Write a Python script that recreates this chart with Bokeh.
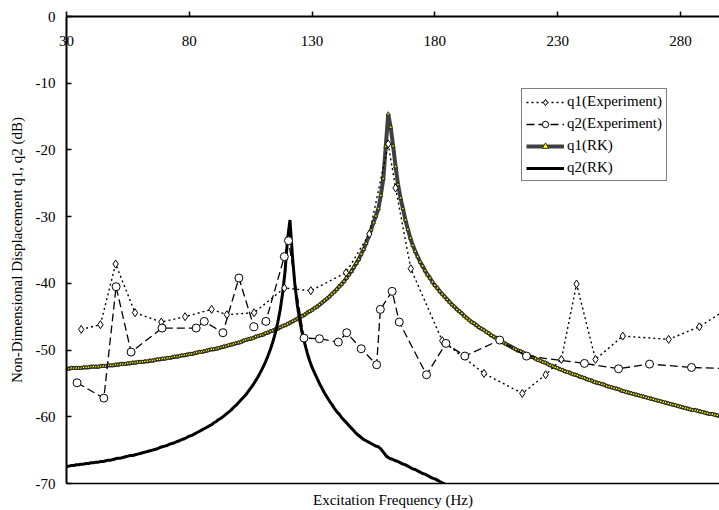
from bokeh.plotting import figure
from bokeh.models import Range1d, FixedTicker, LinearAxis, Legend, LegendItem
from bokeh.embed import file_html
from bokeh.resources import INLINE

# ---- measured response (experiment) ----
q1_exp_freq = [36.0, 43.8, 50.0, 57.9, 68.6, 78.3, 89.1, 95.3, 106.4, 118.7, 129.5,
               143.8, 153.3, 161.0, 164.0, 170.2, 183.0, 200.0, 215.6, 225.1, 231.5,
               237.7, 245.4, 256.5, 275.2, 287.7, 300.0]
q1_exp_db = [-46.9, -46.2, -37.1, -44.4, -45.8, -45.0, -43.9, -44.7, -44.4, -40.7, -41.1,
             -38.4, -32.6, -19.1, -25.7, -37.8, -48.6, -53.5, -56.5, -53.7, -51.4,
             -40.1, -51.4, -47.9, -48.4, -46.5, -43.6]

q2_exp_freq = [34.3, 45.2, 50.2, 56.3, 68.9, 82.8, 86.1, 93.7, 100.2, 106.3, 111.2,
               118.7, 120.4, 126.7, 133.0, 140.7, 144.1, 150.0, 156.3, 157.8, 162.6,
               165.5, 176.6, 184.5, 192.2, 206.4, 217.3, 240.9, 254.8, 267.4, 284.5, 300.0]
q2_exp_db = [-54.9, -57.2, -40.5, -50.3, -46.7, -46.7, -45.7, -47.4, -39.2, -46.5, -45.7,
             -36.0, -33.6, -48.2, -48.3, -48.8, -47.4, -49.8, -52.2, -43.9, -41.2,
             -45.8, -53.7, -49.0, -50.9, -48.5, -50.9, -52.0, -52.8, -52.1, -52.6, -52.8]

# ---- Runge-Kutta simulation, 1 Hz steps ----
q1_rk_freq = list(range(30, 301))
q1_rk_db = [
    -52.8, -52.8, -52.7, -52.7, -52.7, -52.7, -52.7, -52.6, -52.6, -52.6,
    -52.5, -52.5, -52.5, -52.5, -52.4, -52.4, -52.4, -52.3, -52.3, -52.3,
    -52.2, -52.2, -52.1, -52.1, -52.1, -52.0, -52.0, -51.9, -51.9, -51.8,
    -51.8, -51.8, -51.7, -51.7, -51.6, -51.6, -51.5, -51.4, -51.4, -51.3,
    -51.3, -51.2, -51.2, -51.1, -51.0, -51.0, -50.9, -50.8, -50.8, -50.7,
    -50.6, -50.6, -50.5, -50.4, -50.3, -50.3, -50.2, -50.1, -50.0, -49.9,
    -49.9, -49.8, -49.7, -49.6, -49.5, -49.4, -49.3, -49.2, -49.1, -49.0,
    -48.9, -48.8, -48.6, -48.5, -48.4, -48.3, -48.2, -48.0, -47.9, -47.8,
    -47.7, -47.5, -47.4, -47.2, -47.1, -46.9, -46.8, -46.6, -46.4, -46.3,
    -46.1, -45.9, -45.7, -45.5, -45.3, -45.1, -44.9, -44.7, -44.4, -44.2,
    -44.0, -43.7, -43.5, -43.2, -42.9, -42.6, -42.3, -42.0, -41.6, -41.3,
    -40.9, -40.5, -40.1, -39.7, -39.2, -38.7, -38.2, -37.6, -37.0, -36.4,
    -35.6, -34.9, -34.0, -33.0, -32.0, -30.9, -29.9, -28.8, -26.8, -24.3,
    -19.5, -14.6, -16.6, -19.4, -22.5, -25.2, -27.2, -28.8, -30.5, -31.9,
    -33.2, -34.3, -35.2, -36.0, -36.8, -37.4, -38.1, -38.7, -39.2, -39.8,
    -40.3, -40.7, -41.2, -41.6, -42.0, -42.4, -42.8, -43.2, -43.5, -43.9,
    -44.2, -44.5, -44.9, -45.2, -45.5, -45.8, -46.0, -46.3, -46.6, -46.8,
    -47.0, -47.3, -47.5, -47.8, -48.0, -48.2, -48.4, -48.7, -48.9, -49.1,
    -49.3, -49.5, -49.7, -49.9, -50.1, -50.2, -50.4, -50.6, -50.8, -51.0,
    -51.1, -51.3, -51.5, -51.6, -51.8, -51.9, -52.1, -52.3, -52.4, -52.6,
    -52.7, -52.9, -53.0, -53.2, -53.3, -53.4, -53.6, -53.7, -53.8, -54.0,
    -54.1, -54.2, -54.4, -54.5, -54.6, -54.8, -54.9, -55.0, -55.1, -55.2,
    -55.4, -55.5, -55.6, -55.7, -55.8, -55.9, -56.1, -56.2, -56.3, -56.4,
    -56.5, -56.6, -56.7, -56.8, -56.9, -57.0, -57.1, -57.2, -57.3, -57.4,
    -57.5, -57.6, -57.7, -57.8, -57.9, -58.0, -58.1, -58.2, -58.3, -58.4,
    -58.5, -58.6, -58.7, -58.8, -58.9, -59.0, -59.0, -59.1, -59.2, -59.3,
    -59.4, -59.5, -59.6, -59.6, -59.7, -59.8, -59.9, -60.0, -60.1, -60.2,
    -60.2,
]

q2_rk_freq = list(range(30, 186))
q2_rk_db = [
    -67.4, -67.4, -67.3, -67.3, -67.2, -67.2, -67.1, -67.1, -67.0, -67.0,
    -66.9, -66.9, -66.8, -66.8, -66.7, -66.7, -66.6, -66.5, -66.5, -66.4,
    -66.3, -66.2, -66.2, -66.1, -66.0, -65.9, -65.8, -65.8, -65.7, -65.6,
    -65.5, -65.4, -65.3, -65.2, -65.1, -65.0, -64.9, -64.8, -64.6, -64.5,
    -64.4, -64.3, -64.1, -64.0, -63.9, -63.7, -63.6, -63.4, -63.3, -63.1,
    -62.9, -62.8, -62.6, -62.4, -62.2, -62.0, -61.8, -61.6, -61.4, -61.2,
    -60.9, -60.7, -60.4, -60.2, -59.9, -59.6, -59.3, -59.0, -58.6, -58.3,
    -57.9, -57.5, -57.1, -56.7, -56.2, -55.7, -55.2, -54.6, -54.0, -53.3,
    -52.6, -51.8, -50.9, -49.9, -48.8, -47.5, -45.9, -44.0, -41.5, -38.2,
    -33.4, -30.5, -35.9, -40.2, -43.3, -45.6, -47.5, -49.0, -50.4, -51.6,
    -52.6, -53.4, -54.2, -55.0, -55.7, -56.4, -57.0, -57.6, -58.1, -58.7,
    -59.2, -59.6, -60.1, -60.5, -60.9, -61.3, -61.7, -62.1, -62.5, -62.8,
    -63.1, -63.4, -63.6, -63.8, -64.0, -64.2, -64.4, -64.5, -64.8, -65.3,
    -65.8, -66.1, -66.3, -66.4, -66.6, -66.7, -66.9, -67.1, -67.2, -67.4,
    -67.6, -67.8, -67.9, -68.1, -68.3, -68.5, -68.6, -68.8, -69.0, -69.2,
    -69.3, -69.5, -69.7, -69.9, -70.1, -70.3,
]

x_ticks = [30, 80, 130, 180, 230, 280]
y_ticks = [0, -10, -20, -30, -40, -50, -60, -70]

FONT = "Liberation Serif"

p = figure(width=719, height=510, output_backend="svg", toolbar_location=None,
           x_range=Range1d(30, 295.9), y_range=Range1d(-70, 0),
           x_axis_location=None, y_axis_location="left",
           min_border_left=66, min_border_top=16, min_border_bottom=27,
           min_border_right=0)
p.outline_line_color = None
p.xgrid.grid_line_color = None
p.ygrid.grid_line_color = None
p.background_fill_color = "white"
p.border_fill_color = "white"

# frequency axis sits at 0 dB with its labels hanging below the line
top = LinearAxis(ticker=FixedTicker(ticks=x_ticks),
                 major_tick_out=5, major_tick_in=0,
                 minor_tick_out=0, minor_tick_in=0,
                 major_label_standoff=-34,
                 axis_line_width=2, major_tick_line_width=1.5,
                 major_label_text_font=FONT, major_label_text_font_size="15px",
                 major_label_text_color="black")
p.add_layout(top, "above")

bottom = LinearAxis(ticker=FixedTicker(ticks=[]),
                    major_tick_out=0, major_tick_in=0,
                    minor_tick_out=0, minor_tick_in=0,
                    major_label_standoff=0, major_label_text_font_size="0px",
                    axis_line_width=1.5,
                    axis_label="Excitation Frequency (Hz)",
                    axis_label_standoff=8,
                    axis_label_text_font=FONT, axis_label_text_font_size="15px",
                    axis_label_text_font_style="normal",
                    axis_label_text_color="black")
p.add_layout(bottom, "below")

ya = p.yaxis[0]
ya.ticker = FixedTicker(ticks=y_ticks)
ya.major_label_overrides = {t: str(t) for t in y_ticks}
ya.major_tick_in = 5
ya.major_tick_out = 0
ya.minor_tick_in = 0
ya.minor_tick_out = 0
ya.major_label_standoff = 11
ya.axis_line_width = 2
ya.major_tick_line_width = 1.5
ya.major_label_text_font = FONT
ya.major_label_text_font_size = "15px"
ya.major_label_text_color = "black"
ya.axis_label = "Non-Dimensional Displacement q1, q2 (dB)"
ya.axis_label_standoff = 8
ya.axis_label_text_font = FONT
ya.axis_label_text_font_size = "15px"
ya.axis_label_text_font_style = "normal"
ya.axis_label_text_color = "black"

# simulated curves
l3 = p.line(q1_rk_freq, q1_rk_db, line_color="#404040", line_width=4)
s3 = p.scatter(q1_rk_freq, q1_rk_db, marker="triangle", size=3.8,
               fill_color="#ffff00", line_color="#111111", line_width=0.8)
l4 = p.line(q2_rk_freq, q2_rk_db, line_color="black", line_width=3)
s4 = p.scatter([], [], marker="circle", size=3, fill_color="black", line_color="black")

# measured curves
l1 = p.line(q1_exp_freq, q1_exp_db, line_color="black", line_width=1.4, line_dash="2 3")
s1 = p.scatter(q1_exp_freq, q1_exp_db, marker="diamond", size=8,
               fill_color="white", line_color="black", line_width=1)
l2 = p.line(q2_exp_freq, q2_exp_db, line_color="black", line_width=1.3, line_dash="8 4")
s2 = p.scatter(q2_exp_freq, q2_exp_db, marker="circle", size=8,
               fill_color="white", line_color="black", line_width=1)

legend = Legend(items=[
    LegendItem(label="q1(Experiment)", renderers=[l1, s1]),
    LegendItem(label="q2(Experiment)", renderers=[l2, s2]),
    LegendItem(label="q1(RK)", renderers=[l3, s3]),
    LegendItem(label="q2(RK)", renderers=[l4, s4]),
], location=(455, 302))
legend.border_line_color = "black"
legend.border_line_width = 1
legend.background_fill_color = "white"
legend.background_fill_alpha = 1
legend.label_text_font = FONT
legend.label_text_font_size = "15px"
legend.label_text_color = "black"
legend.glyph_width = 38
legend.glyph_height = 16
legend.label_height = 16
legend.label_standoff = 3
legend.padding = 4
legend.spacing = 5
legend.margin = 0
p.add_layout(legend)

open("out.html", "w").write(file_html(p, INLINE))
